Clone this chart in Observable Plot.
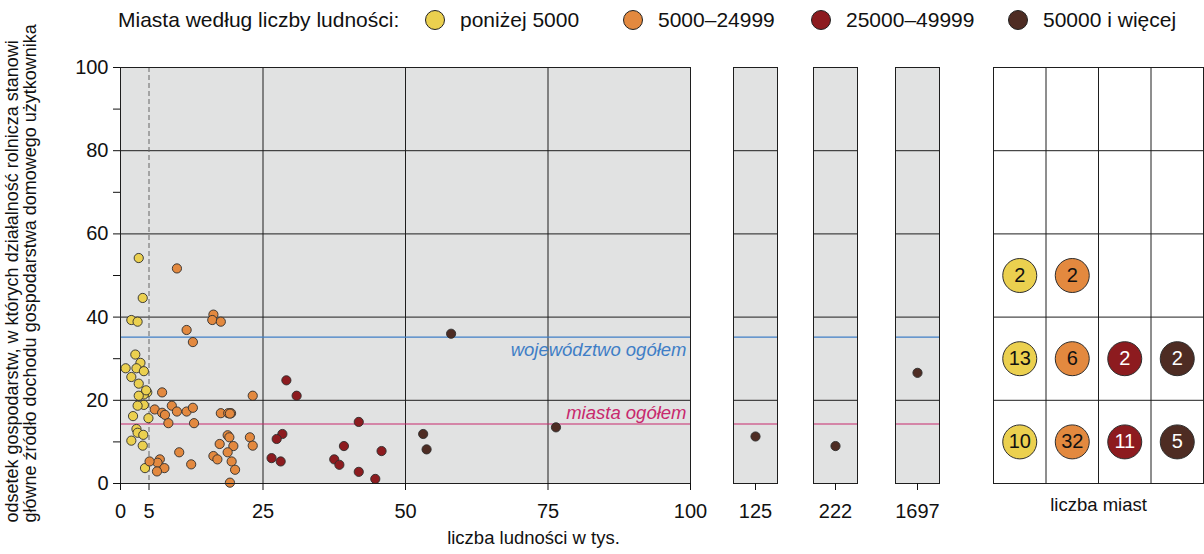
<!DOCTYPE html>
<html><head><meta charset="utf-8">
<script src="https://cdn.jsdelivr.net/npm/d3@7"></script>
<script src="https://cdn.jsdelivr.net/npm/@observablehq/plot@0.6"></script>
<style>
body{margin:0;background:#fff;font-family:"Liberation Sans",Arial,sans-serif;}
#chart{position:relative;width:1204px;height:554px;overflow:hidden;background:#fff;}
.panel{position:absolute;top:0;}
.leg{position:absolute;top:7px;font-size:21px;color:#111;white-space:nowrap;line-height:26px;}
.sw{position:absolute;top:10px;width:20px;height:20px;border-radius:50%;border:1px solid #222;box-sizing:border-box;}
</style></head><body><div id="chart"></div>
<script>
// ---- data ----
const categories = ["poniżej 5000", "5000–24999", "25000–49999", "50000 i więcej"];
const catColors = ["#ebd04f", "#e3893f", "#8d1b1f", "#4e2c23"];
const countTextColors = ["#111", "#111", "#fff", "#fff"];
const legendTitle = "Miasta według liczby ludności:";

const yellowX = [3.2, 3.9, 1.9, 3.0, 2.6, 3.5, 0.9, 2.8, 4.1, 1.9, 3.2, 4.7, 4.1, 3.2, 4.5, 4.1, 3.0, 2.2, 4.9, 2.8, 3.0, 4.0, 1.9, 3.9, 4.3];
const yellowY = [54.2, 44.6, 39.3, 38.9, 31.0, 29.0, 27.7, 27.7, 27.0, 25.6, 24.0, 21.9, 21.4, 21.1, 22.4, 18.9, 18.7, 16.2, 15.7, 13.1, 12.2, 11.7, 10.3, 9.1, 3.7];

const orangeX = [9.9, 16.3, 16.1, 17.6, 11.6, 12.7, 23.2, 7.3, 9.0, 6.0, 7.3, 7.8, 9.9, 11.6, 12.7, 17.6, 18.9, 19.4, 8.4, 12.9, 18.8, 19.1, 22.7, 17.4, 19.8, 23.2, 18.8, 10.3, 16.3, 17.0, 19.5, 6.9, 6.5, 5.1, 7.7, 6.4, 12.4, 20.1, 19.2, 19.2];
const orangeY = [51.7, 40.6, 39.3, 38.9, 36.9, 34.0, 21.1, 21.9, 18.7, 17.8, 17.0, 16.5, 17.3, 17.3, 18.2, 16.9, 16.9, 16.9, 14.5, 14.5, 11.6, 11.1, 11.1, 9.5, 9.0, 9.1, 7.5, 7.5, 6.6, 5.8, 5.3, 5.8, 5.0, 5.3, 3.7, 2.9, 4.6, 3.3, 0.2, 16.8];

const redX = [29.1, 30.9, 41.8, 28.4, 27.4, 39.2, 45.8, 26.5, 28.1, 37.5, 38.4, 41.8, 44.7];
const redY = [24.8, 21.1, 14.8, 11.9, 10.7, 9.0, 7.8, 6.1, 5.3, 5.8, 4.5, 2.8, 1.1];

const brownX = [58.0, 76.4, 53.1, 53.7, 125, 222, 1697];
const brownY = [36.0, 13.5, 11.9, 8.2, 11.3, 9.0, 26.6];

const outsideValues = [125, 222, 1697];
const xTicks = [0, 5, 25, 50, 75, 100];
const yTicks = [0, 10, 20, 30, 40, 50, 60, 70, 80, 90, 100];
const gridX = [25, 50, 75];
const gridY = [20, 40, 60, 80];
const thresholdX = [5];

const refValues = [35.2, 14.3];
const refLabels = ["województwo ogółem", "miasta ogółem"];

const countBands = ["0–20", "20–40", "40–60"];
const countBandMid = [10, 30, 50];
const countsYellow = [10, 13, 2];
const countsOrange = [32, 6, 2];
const countsRed = [11, 2, 0];
const countsBrown = [5, 2, 0];

const yTitle = "odsetek gospodarstw, w których działalność rolnicza stanowi\ngłówne źródło dochodu gospodarstwa domowego użytkownika";
const xTitle = "liczba ludności w tys.";
const countTitle = "liczba miast";

// ---- build tables ----
const seriesX = [yellowX, orangeX, redX, brownX];
const seriesY = [yellowY, orangeY, redY, brownY];
const points = [];
seriesX.forEach((xs, ci) => xs.forEach((x, i) => points.push({x, y: seriesY[ci][i], cat: categories[ci]})));
const mainPoints = points.filter(d => d.x <= 100);

const countSeries = [countsYellow, countsOrange, countsRed, countsBrown];
const counts = [];
countSeries.forEach((arr, ci) => arr.forEach((n, bi) => {
  if (n > 0) counts.push({col: ci + 0.5, y: countBandMid[bi], n, cat: categories[ci], tc: countTextColors[ci]});
}));

// ---- styles ----
const FONT = "'Liberation Sans', Arial, sans-serif";
const BG = "#e1e2e2";
const GRID = "#1e1e1e";
const BLUE = "#3f7ec6";
const PINK = "#c8286d";
const DOT_STROKE = "#2e2e2e";
const baseStyle = {fontFamily: FONT, fontSize: "20px", color: "#111", overflow: "visible", background: "transparent"};
const colorScale = {domain: categories, range: catColors};

const chart = document.getElementById("chart");
function place(svg, left) {
  svg.classList.add("panel");
  svg.style.left = left + "px";
  chart.appendChild(svg);
}

// ---- main panel ----
const main = Plot.plot({
  width: 700, height: 554,
  marginLeft: 120, marginRight: 10, marginTop: 67, marginBottom: 71,
  style: baseStyle,
  x: {domain: [0, 100]},
  y: {domain: [0, 100]},
  color: colorScale,
  marks: [
    Plot.frame({fill: BG, stroke: null}),
    Plot.ruleY(gridY, {stroke: GRID, strokeWidth: 1}),
    Plot.ruleX(gridX, {stroke: GRID, strokeWidth: 1}),
    Plot.ruleX(thresholdX, {stroke: "#666", strokeWidth: 1, strokeDasharray: "5,3"}),
    Plot.ruleY([refValues[0]], {stroke: BLUE, strokeWidth: 1.3}),
    Plot.ruleY([refValues[1]], {stroke: PINK, strokeWidth: 1.2}),
    Plot.text([refLabels[0]], {x: 100, y: refValues[0], dx: -4, dy: 13, textAnchor: "end", fill: BLUE, fontSize: 18.5, fontStyle: "italic"}),
    Plot.text([refLabels[1]], {x: 100, y: refValues[1], dx: -4, dy: -11, textAnchor: "end", fill: PINK, fontSize: 18.5, fontStyle: "italic"}),
    Plot.dot(mainPoints, {x: "x", y: "y", fill: "cat", stroke: DOT_STROKE, strokeWidth: 0.9, r: 4.6}),
    Plot.frame({stroke: GRID, strokeWidth: 1}),
    Plot.axisX({ticks: xTicks, tickSize: 7, tickPadding: 13, label: null, fontSize: 20, tickFormat: d => String(d)}),
    Plot.axisY({ticks: yTicks, tickSize: 7, tickPadding: 5, label: null, fontSize: 20, tickFormat: d => d % 20 === 0 ? String(d) : ""}),
    Plot.text([yTitle], {frameAnchor: "bottom-left", rotate: -90, textAnchor: "start", dx: -85, dy: 39, fontSize: 18, lineHeight: 1.0, fill: "#111"}),
    Plot.text([xTitle], {frameAnchor: "bottom", dx: 128, dy: 60, fontSize: 18.5, fill: "#111"})
  ]
});
place(main, 0);

// ---- outside (>100 thousand) panels ----
const outsideLefts = [733, 813, 895];
outsideValues.forEach((v, i) => {
  const pts = points.filter(d => d.x === v);
  const p = Plot.plot({
    width: 54, height: 554,
    marginLeft: 5, marginRight: 5, marginTop: 67, marginBottom: 71,
    style: baseStyle,
    x: {type: "point", domain: [v]},
    y: {domain: [0, 100], axis: null},
    color: colorScale,
    marks: [
      Plot.frame({fill: BG, stroke: null}),
      Plot.ruleY(gridY, {stroke: GRID, strokeWidth: 1}),
      Plot.ruleY([refValues[0]], {stroke: BLUE, strokeWidth: 1.3}),
      Plot.ruleY([refValues[1]], {stroke: PINK, strokeWidth: 1.2}),
      Plot.dot(pts, {x: "x", y: "y", fill: "cat", stroke: DOT_STROKE, strokeWidth: 0.9, r: 4.6}),
      Plot.frame({stroke: GRID, strokeWidth: 1}),
      Plot.axisX({tickSize: 7, tickPadding: 13, label: null, fontSize: 20, tickFormat: d => String(d)})
    ]
  });
  place(p, outsideLefts[i] - 5);
});

// ---- count grid ----
const grid = Plot.plot({
  width: 212, height: 554,
  marginLeft: 1, marginRight: 1, marginTop: 67, marginBottom: 71,
  style: baseStyle,
  x: {domain: [0, 4], axis: null},
  y: {domain: [0, 100], axis: null},
  color: colorScale,
  marks: [
    Plot.frame({fill: "#fff", stroke: null}),
    Plot.ruleY(gridY, {stroke: GRID, strokeWidth: 1}),
    Plot.ruleX([1, 2, 3], {stroke: GRID, strokeWidth: 1}),
    Plot.frame({stroke: GRID, strokeWidth: 1}),
    Plot.dot(counts, {x: "col", y: "y", fill: "cat", stroke: DOT_STROKE, strokeWidth: 1, r: 17}),
    Plot.text(counts, {x: "col", y: "y", text: d => String(d.n), fill: d => d.tc, fontSize: 20}),
    Plot.text([countTitle], {frameAnchor: "bottom", dy: 27, fontSize: 18.5, fill: "#111"})
  ]
});
place(grid, 992);

// ---- legend ----
const legTitle = document.createElement("div");
legTitle.className = "leg";
legTitle.style.left = "118px";
legTitle.textContent = legendTitle;
chart.appendChild(legTitle);
const swLefts = [425, 623, 811, 1008];
categories.forEach((c, i) => {
  const sw = document.createElement("div");
  sw.className = "sw";
  sw.style.left = swLefts[i] + "px";
  sw.style.background = catColors[i];
  chart.appendChild(sw);
  const t = document.createElement("div");
  t.className = "leg";
  t.style.left = (swLefts[i] + 35) + "px";
  t.textContent = c;
  chart.appendChild(t);
});
</script></body></html>
